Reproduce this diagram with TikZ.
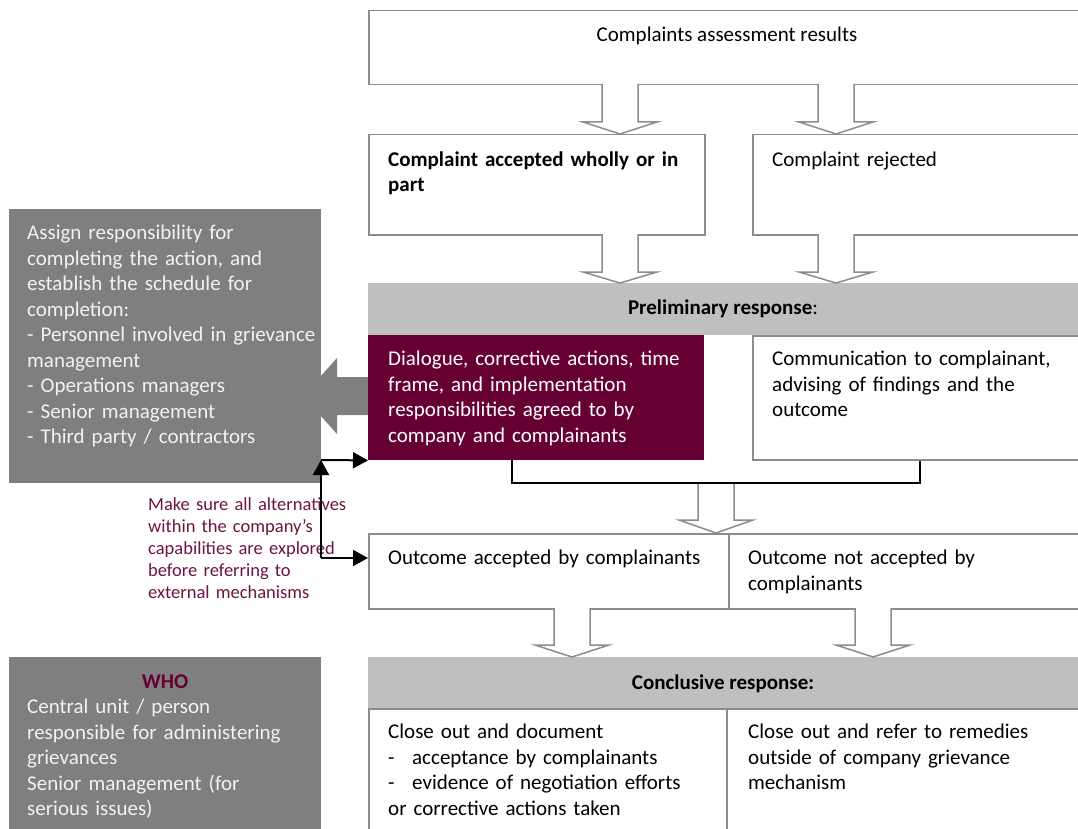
\documentclass[tikz,border=0pt]{standalone}
\usepackage{fontspec}
\setmainfont{Carlito}
\usetikzlibrary{arrows.meta}
\definecolor{boxgray}{HTML}{8C8C8C}
\definecolor{sidegray}{HTML}{7F7F7F}
\definecolor{bandgray}{HTML}{BFBFBF}
\definecolor{wine}{HTML}{660033}
\definecolor{notewine}{HTML}{6E1443}
\definecolor{lighttext}{HTML}{F2F2F2}
\tikzset{
  box/.style={draw=boxgray, line width=1.5pt, fill=white, inner sep=0pt, anchor=north west},
  solidbox/.style={draw=none, inner sep=0pt, anchor=north west},
  txt/.style={inner sep=0pt, anchor=base west, text width=420pt, align=left, font=\fontsize{21}{25.5}\selectfont},
  ctxt/.style={inner sep=0pt, anchor=base, font=\fontsize{21}{25.5}\selectfont},
  notetxt/.style={inner sep=0pt, anchor=base west, text width=300pt, align=left, text=notewine, font=\fontsize{18.5}{22}\selectfont},
  hollow/.style={draw=boxgray, line width=1.5pt, fill=white, line join=miter},
  link/.style={line width=2pt, draw=black},
  tipend/.style={-{Triangle[length=15pt,width=16pt]}},
}
\newcommand\hollowarrow[4]{%
  \path[hollow] (#1-18,#2) -- (#1-18,#3) -- (#1-37,#3) -- (#1,#4) -- (#1+37,#3) -- (#1+18,#3) -- (#1+18,#2);
}
\begin{document}
\begin{tikzpicture}[x=1pt,y=-1pt]
\useasboundingbox (0,0) rectangle (1078,829);
\clip (0,0) rectangle (1078,829);

% big left-pointing block arrow (drawn before side box)
\fill[sidegray] (369,377) -- (337,377) -- (337,358) -- (303,396) -- (337,434) -- (337,415) -- (369,415) -- cycle;

% side boxes
\node[solidbox, fill=sidegray, minimum width=312pt, minimum height=274pt] (assign) at (9,209) {};
\node[solidbox, fill=sidegray, minimum width=312pt, minimum height=190pt] (who) at (9,657) {};

% main boxes
\node[box, minimum width=740pt, minimum height=74pt] (top) at (368,10) {};
\node[box, minimum width=336pt, minimum height=100pt] (acc) at (368,134) {};
\node[box, minimum width=360pt, minimum height=100pt] (rej) at (752,134) {};
\node[solidbox, fill=bandgray, minimum width=740pt, minimum height=52pt] (band1) at (368,283) {};
\node[solidbox, fill=wine, minimum width=336pt, minimum height=125pt] (dark) at (368,335) {};
\node[box, minimum width=360pt, minimum height=124pt] (comm) at (752,335) {};
\node[box, minimum width=360pt, minimum height=75pt] (outA) at (368,533) {};
\node[box, minimum width=380pt, minimum height=75pt] (outB) at (728,533) {};
\node[solidbox, fill=bandgray, minimum width=740pt, minimum height=51pt] (band2) at (368,657) {};
\node[box, minimum width=358pt, minimum height=150pt] (botA) at (368,708) {};
\node[box, minimum width=380pt, minimum height=150pt] (botB) at (726,708) {};

% bracket joining the two preliminary responses
\draw[link] ([xshift=144pt]dark.south west) -- ++(0,23) -| ([xshift=168pt]comm.south west);

% hollow down arrows
\hollowarrow{620}{84}{122}{134}
\hollowarrow{836}{84}{122}{134}
\hollowarrow{620}{234}{272}{283}
\hollowarrow{836}{234}{272}{283}
\hollowarrow{716}{484}{520}{533}
\hollowarrow{572}{608}{645}{657}
\hollowarrow{873}{608}{645}{657}

% texts
\node[ctxt] (t0) at (727,41.5) {Complaints assessment results};
\node[txt] (t1) at (388,166.5) {\bfseries Complaint accepted wholly or in\\part};
\node[txt] (t2) at (772,166.5) {Complaint rejected};
\node[ctxt] (t3) at (723,314.5) {\textbf{Preliminary response}:};
\node[txt, text=white] (t4) at (388,365.5) {Dialogue, corrective actions, time\\frame, and implementation\\responsibilities agreed to by\\company and complainants};
\node[txt] (t5) at (772,365.5) {Communication to complainant,\\advising of findings and the\\outcome};
\node[txt] (t6) at (388,564.5) {Outcome accepted by complainants};
\node[txt] (t7) at (748,564.5) {Outcome not accepted by\\complainants};
\node[ctxt] (t8) at (723,689.5) {\textbf{Conclusive response:}};
\node[txt] (t9) at (388,738.5) {Close out and document\\\makebox[24pt][l]{-}acceptance by complainants\\\makebox[24pt][l]{-}evidence of negotiation efforts\\or corrective actions taken};
\node[txt] (t10) at (748,738.5) {Close out and refer to remedies\\outside of company grievance\\mechanism};
\node[txt, text=lighttext] (t11) at (27,239.5) {Assign responsibility for\\completing the action, and\\establish the schedule for\\completion:\\- Personnel involved in grievance\\management\\- Operations managers\\- Senior management\\- Third party / contractors};
\node[ctxt, text=wine] (t12) at (165,688.5) {\textbf{WHO}};
\node[txt, text=lighttext] (t13) at (27,713.5) {Central unit / person\\responsible for administering\\grievances\\Senior management (for\\serious issues)};
\node[notetxt] (note) at (148,510.5) {Make sure all alternatives\\within the company’s\\capabilities are explored\\before referring to\\external mechanisms};

% elbow connector with arrows
\coordinate (c1) at (321,460);
\coordinate (c2) at (321,558);
\draw[link, tipend] (c2) -- (c1);
\draw[link, tipend] (c1) -- (dark.south west);
\draw[link, tipend] (c2) -- (c2 -| outA.west);
\end{tikzpicture}
\end{document}
